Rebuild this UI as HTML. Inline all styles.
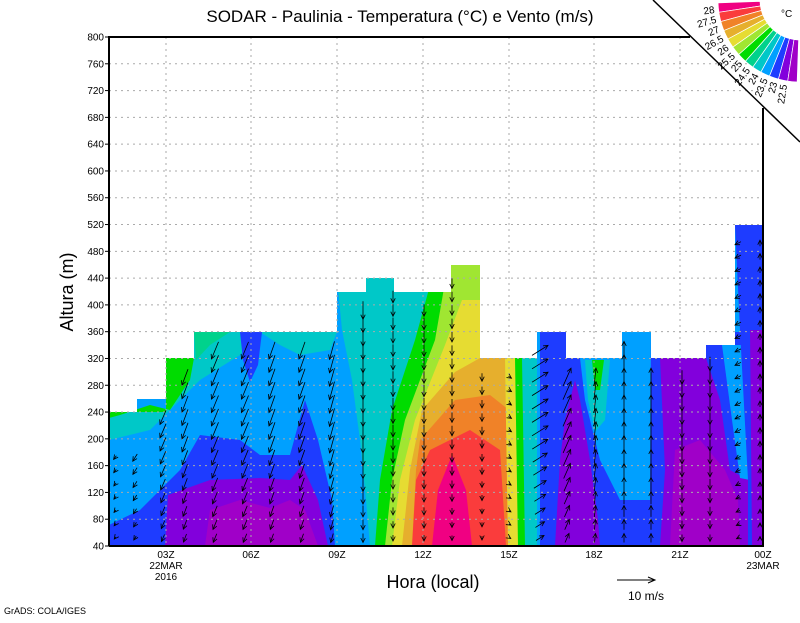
<!DOCTYPE html>
<html><head><meta charset="utf-8"><style>
body{margin:0;background:#fff;}
svg text{font-family:"Liberation Sans",sans-serif;}
</style></head><body>
<svg id="s" width="800" height="618" xmlns="http://www.w3.org/2000/svg">
<defs><clipPath id="dom"><path d="M109,546 V412 H137 V399 H166 V358 H194 V332 H337 V292 H366 V278 H394 V292 H451 V265 H480 V358 H537 V332 H566 V358 H622 V332 H651 V358 H706 V345 H735 V225 H763 V546 Z"/></clipPath></defs>
<g clip-path="url(#dom)">
<rect x="109" y="220" width="654" height="330" fill="#00a0ff"/>
<path d="M109,412 H166 V358 H194 V332 H260 L240,355 L200,380 L150,430 L109,440 Z" fill="#00c8c8"/>
<path d="M109,412 H166 V358 H194 L190,380 L170,410 L150,405 L120,415 L109,418 Z" fill="#00dc00"/>
<path d="M194,332 H230 L210,345 L196,360 Z" fill="#00d28c"/>
<path d="M260,332 H337 L330,350 L300,355 L280,345 Z" fill="#00c8c8"/>
<path d="M240,332 H262 L258,365 L250,382 L243,360 Z" fill="#1e3cff"/>
<path d="M109,525 L140,510 L180,470 L200,435 L240,440 L260,455 L290,455 L305,400 L318,440 L332,500 L335,546 H109 Z" fill="#1e3cff"/>
<path d="M165,546 L168,495 L210,480 L260,478 L290,480 L302,465 L318,500 L328,546 Z" fill="#8200dc"/>
<path d="M205,546 L210,510 L240,500 L270,508 L290,500 L305,510 L318,546 Z" fill="#a000c8"/>
<path d="M337,278 H480 V546 H370 L366,500 L360,440 L352,380 L342,330 Z" fill="#00c8c8"/>
<path d="M432,278 H480 V546 H375 L380,480 L392,410 L415,340 Z" fill="#00dc00"/>
<path d="M448,265 H480 V546 H385 L392,480 L405,420 L435,340 Z" fill="#a0e632"/>
<path d="M462,300 L480,300 V546 H392 L400,480 L415,420 L445,345 Z" fill="#e6dc32"/>
<path d="M480,358 H510 V546 H402 L410,470 L422,410 L455,372 Z" fill="#e6af2d"/>
<path d="M420,440 L455,400 L490,395 L509,410 V546 H412 L416,470 Z" fill="#f08228"/>
<path d="M416,480 L430,450 L470,430 L500,450 L506,546 H412 Z" fill="#fa3c3c"/>
<path d="M432,546 L438,490 L452,455 L466,490 L472,546 Z" fill="#f00082"/>
<path d="M505,358 H520 V546 H508 Z" fill="#e6dc32"/>
<path d="M515,358 H525 V546 H518 Z" fill="#00dc00"/>
<path d="M522,358 H537 V546 H525 Z" fill="#00c8c8"/>
<path d="M540,332 H763 V546 H540 Z" fill="#1e3cff"/>
<path d="M555,546 L560,460 L565,420 L575,380 L580,400 L590,460 L598,520 L600,546 Z" fill="#8200dc"/>
<path d="M580,358 H622 V332 H651 L650,500 L620,500 L600,460 L585,400 Z" fill="#00a0ff"/>
<path d="M585,360 H610 L605,420 L595,432 L588,400 Z" fill="#00c8c8"/>
<path d="M592,360 H604 L600,390 L595,390 Z" fill="#00dc00"/>
<path d="M660,358 H706 L720,400 L730,470 L748,480 L748,546 H660 L665,470 Z" fill="#8200dc"/>
<path d="M670,546 L675,450 L700,440 L725,470 L738,500 L740,546 Z" fill="#a000c8"/>
<path d="M722,345 H750 V480 L740,478 L732,420 Z" fill="#00a0ff"/>
<path d="M735,225 H763 V546 H748 L748,480 L740,330 Z" fill="#1e3cff"/>
<path d="M750,330 H763 V546 H752 Z" fill="#8200dc"/>
</g>
<g id="grid" stroke="#aaa" stroke-width="1" stroke-dasharray="2,4" fill="none"></g>
<g id="arrows" stroke="#000" stroke-width="0.8" fill="none"></g>
<path d="M109,546 V37 H690 M763,108 V546 H109" stroke="#000" stroke-width="2" fill="none"/>
<line x1="653" y1="0" x2="800" y2="142" stroke="#000" stroke-width="1.5"/>
<g id="leg"></g>
<g id="lab" font-size="10" fill="#000"></g>
<text x="400" y="22" font-size="17" text-anchor="middle">SODAR - Paulinia - Temperatura (°C) e Vento (m/s)</text>
<text transform="translate(73,292) rotate(-90)" font-size="18" text-anchor="middle">Altura (m)</text>
<text x="433" y="588" font-size="18" text-anchor="middle">Hora (local)</text>
<text x="4" y="614" font-size="9">GrADS: COLA/IGES</text>
<line x1="617" y1="580" x2="655" y2="580" stroke="#000"/><path d="M648,577 L655,580 L648,583" stroke="#000" fill="none"/>
<text x="628" y="600" font-size="12">10 m/s</text>
<text x="781" y="17" font-size="10">°C</text>
</svg>
<script>
var NS="http://www.w3.org/2000/svg";
function el(p,t,a,txt){var e=document.createElementNS(NS,t);for(var k in a)e.setAttribute(k,a[k]);if(txt)e.textContent=txt;p.appendChild(e);return e;}
var g=document.getElementById('grid'),lab=document.getElementById('lab');
function ym(m){return 546-(m-40)*509/760;}
for(var m=40;m<=800;m+=40){var y=ym(m);if(m>40&&m<800)el(g,'line',{x1:109,x2:763,y1:y,y2:y});
el(lab,'text',{x:104,y:y+3.5,'text-anchor':'end'},String(m));el(lab,'line',{x1:105,x2:109,y1:y,y2:y,stroke:'#000'});}
var xs=[166,251,337,423,509,594,680],nm=['03Z','06Z','09Z','12Z','15Z','18Z','21Z'];
xs.forEach(function(x,i){el(g,'line',{x1:x,x2:x,y1:37,y2:546});el(lab,'text',{x:x,y:558,'text-anchor':'middle'},nm[i]);});
el(lab,'text',{x:166,y:569,'text-anchor':'middle'},'22MAR');el(lab,'text',{x:166,y:580,'text-anchor':'middle'},'2016');
el(lab,'text',{x:763,y:558,'text-anchor':'middle'},'00Z');el(lab,'text',{x:763,y:569,'text-anchor':'middle'},'23MAR');
var L=document.getElementById('leg');
var cols=['#f00082','#fa3c3c','#f08228','#e6af2d','#e6dc32','#a0e632','#00dc00','#00d28c','#00c8c8','#00a0ff','#1e3cff','#8200dc','#a000c8'];
var labs=['28','27.5','27','26.5','26','25.5','25','24.5','24','23.5','23','22.5'];
var a0=178,a1=92,n=13,da=(a0-a1)/n,cx=800,cy=0,r0=40,r1=82;
function P(r,a){a=a*Math.PI/180;return [cx+r*Math.cos(a),cy+r*Math.sin(a)];}
for(var i=0;i<n;i++){var s=a0-i*da,e=s-da;var p1=P(r0,s),p2=P(r1,s),p3=P(r1,e),p4=P(r0,e);
el(L,'path',{d:'M'+p1+' L'+p2+' A'+r1+','+r1+' 0 0 0 '+p3+' L'+p4+' A'+r0+','+r0+' 0 0 1 '+p1,fill:cols[i],stroke:'#fff','stroke-width':0.7});}
for(var i=0;i<12;i++){var a=a0-(i+1)*da;var q=P(86,a);
el(L,'text',{x:q[0],y:q[1],'font-size':10,'text-anchor':'end',transform:'rotate('+(a-180)+' '+q[0]+' '+q[1]+')'},labs[i]);}
var A=document.getElementById('arrows');
var tops=[[137,412],[166,399],[194,358],[337,332],[366,292],[394,278],[451,292],[480,265],[537,358],[566,332],[622,358],[651,332],[706,358],[735,345],[763,225]];
function topAt(x){for(var i=0;i<tops.length;i++)if(x<tops[i][0])return tops[i][1];return 546;}
function arrow(x,y,u,v){var x2=x+u,y2=y+v;el(A,'line',{x1:x,y1:y,x2:x2,y2:y2});var l=Math.hypot(u,v)||1,ux=u/l,uy=v/l,h=4.5;
el(A,'path',{d:'M'+(x2-h*ux+h*0.5*uy)+','+(y2-h*uy-h*0.5*ux)+' L'+x2+','+y2+' L'+(x2-h*ux-h*0.5*uy)+','+(y2-h*uy+h*0.5*ux)});}
var cs=[[115,-3,4],[135,-5,8],[163,-6,14],[185,-6,16],[215,-7,17],[245,-7,17],[272,-6,17],[302,-6,17],[332,-5,18],[363,0,18],[393,0,12],[424,0,12],[452,0,10],[482,0,8],[510,3,2],[540,16,-10],[567,8,-18],[595,2,-18],[624,0,-18],[651,0,-18],[682,0,14],[710,0,14],[738,-6,3],[760,0,-6]];
cs.forEach(function(c){var t=topAt(c[0]);var lowTop=c[0]<140?440:t;for(var y=538;y>lowTop+8;y-=13.4){var sc=Math.min(1,0.5+(538-y)/200);
var u=c[1]*sc,v=c[2]*sc;arrow(c[0]-u/2,y-v/2,u,v);}});
</script>
</body></html>
